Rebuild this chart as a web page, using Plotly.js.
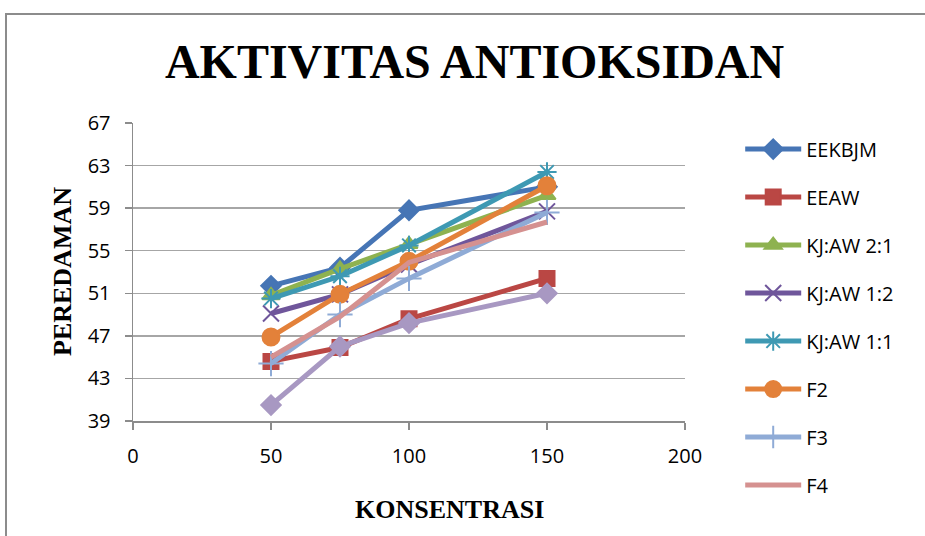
<!DOCTYPE html>
<html>
<head>
<meta charset="utf-8">
<script src="https://cdn.plot.ly/plotly-3.0.1.min.js"></script>
<style>
html,body{margin:0;padding:0;overflow:hidden;background:#fff;width:925px;height:536px;}
#frame{position:absolute;left:5px;top:13px;width:1000px;height:700px;border:2px solid #8c8c8c;box-sizing:border-box;}
#chart{position:absolute;left:0;top:0;width:925px;height:536px;}
</style>
</head>
<body>
<div id="frame"></div>
<div id="chart"></div>
<script>
const konsentrasi = [50, 75, 100, 150];
const seriesNames = ["EEKBJM", "EEAW", "KJ:AW 2:1", "KJ:AW 1:2", "KJ:AW 1:1", "F2", "F3", "F4", "F5"];
const EEKBJM = [51.7, 53.4, 58.8, 61.0];
const EEAW = [44.6, 45.9, 48.6, 52.4];
const KJAW21 = [50.8, 53.3, 55.6, 60.2];
const KJAW12 = [49.1, 50.9, 53.7, 58.7];
const KJAW11 = [50.5, 52.6, 55.5, 62.4];
const F2 = [46.9, 50.9, 54.0, 61.1];
const F3 = [44.4, 49.0, 52.4, 58.6];
const F4 = [45.0, 48.8, 53.9, 57.7];
const F5 = [40.5, 46.0, 48.2, 51.0];
const yTicks = [39, 43, 47, 51, 55, 59, 63, 67];
const xTicks = [0, 50, 100, 150, 200];

const values = [EEKBJM, EEAW, KJAW21, KJAW12, KJAW11, F2, F3, F4, F5];
const colors = ["#4675B5", "#BA4744", "#8EB250", "#6F569B", "#3E99B3", "#E3813A", "#8FABD6", "#D59190", "#A898C2"];
const symbols = ["diamond", "square", "triangle-up", "x-thin-open", "asterisk-open", "circle", "cross-thin-open", "line-ew-open", "diamond"];
const sizes = [15, 15, 15, 16, 16, 17, 18, 1, 15];

const traces = values.map((v, i) => ({
  x: konsentrasi,
  y: v,
  name: seriesNames[i],
  type: "scatter",
  mode: i === 7 ? "lines" : "lines+markers",
  line: {color: colors[i], width: 5},
  marker: {symbol: symbols[i], size: sizes[i], color: colors[i], line: {color: colors[i], width: 2}},
  legendgroup: "g" + i,
  showlegend: i < 8
}));

const serif = "Liberation Serif, Times New Roman, serif";
const sans = "Open Sans, Liberation Sans, sans-serif";

const layout = {
  width: 925, height: 536,
  margin: {l: 133, r: 240, t: 123, b: 115},
  paper_bgcolor: "rgba(0,0,0,0)",
  plot_bgcolor: "rgba(0,0,0,0)",
  title: {text: "<b>AKTIVITAS ANTIOKSIDAN</b>", font: {family: serif, size: 48, color: "#000"}, x: 0.513, xanchor: "center", y: 0.885, yanchor: "middle"},
  xaxis: {
    range: [0, 200], tickvals: xTicks, ticktext: xTicks.map(String),
    showgrid: false, zeroline: false, showline: true, linecolor: "#8c8c8c", linewidth: 1.5,
    ticks: "outside", ticklen: 7, tickcolor: "#8c8c8c", tickwidth: 1.5, ticklabelstandoff: 9,
    tickfont: {family: sans, size: 20, color: "#000"}
  },
  yaxis: {
    range: [39, 67], tickvals: yTicks, ticktext: yTicks.map(String),
    showgrid: true, gridcolor: "#a6a6a6", gridwidth: 1.5, zeroline: false,
    showline: true, linecolor: "#8c8c8c", linewidth: 1.5,
    ticks: "outside", ticklen: 7, tickcolor: "#8c8c8c", tickwidth: 1.5, ticklabelstandoff: 10,
    tickfont: {family: sans, size: 20, color: "#000"}
  },
  annotations: [
    {text: "<b>KONSENTRASI</b>", xref: "paper", yref: "paper", x: (449 - 133) / 552, y: (421 - 509) / 298, xanchor: "center", yanchor: "middle", showarrow: false, font: {family: serif, size: 26, color: "#000"}},
    {text: "<b>PEREDAMAN</b>", xref: "paper", yref: "paper", x: (62 - 133) / 552, y: (421 - 272) / 298, xanchor: "center", yanchor: "middle", textangle: -90, showarrow: false, font: {family: serif, size: 26, color: "#000"}}
  ],
  legend: {
    x: 1.10, xanchor: "left", y: 0.978, yanchor: "top",
    font: {family: sans, size: 20, color: "#000"},
    itemwidth: 56, tracegroupgap: 19, traceorder: "grouped",
    bgcolor: "rgba(0,0,0,0)", maxheight: 600
  },
  showlegend: true
};

Plotly.newPlot("chart", traces, layout, {displayModeBar: false, staticPlot: true});
</script>
</body>
</html>
